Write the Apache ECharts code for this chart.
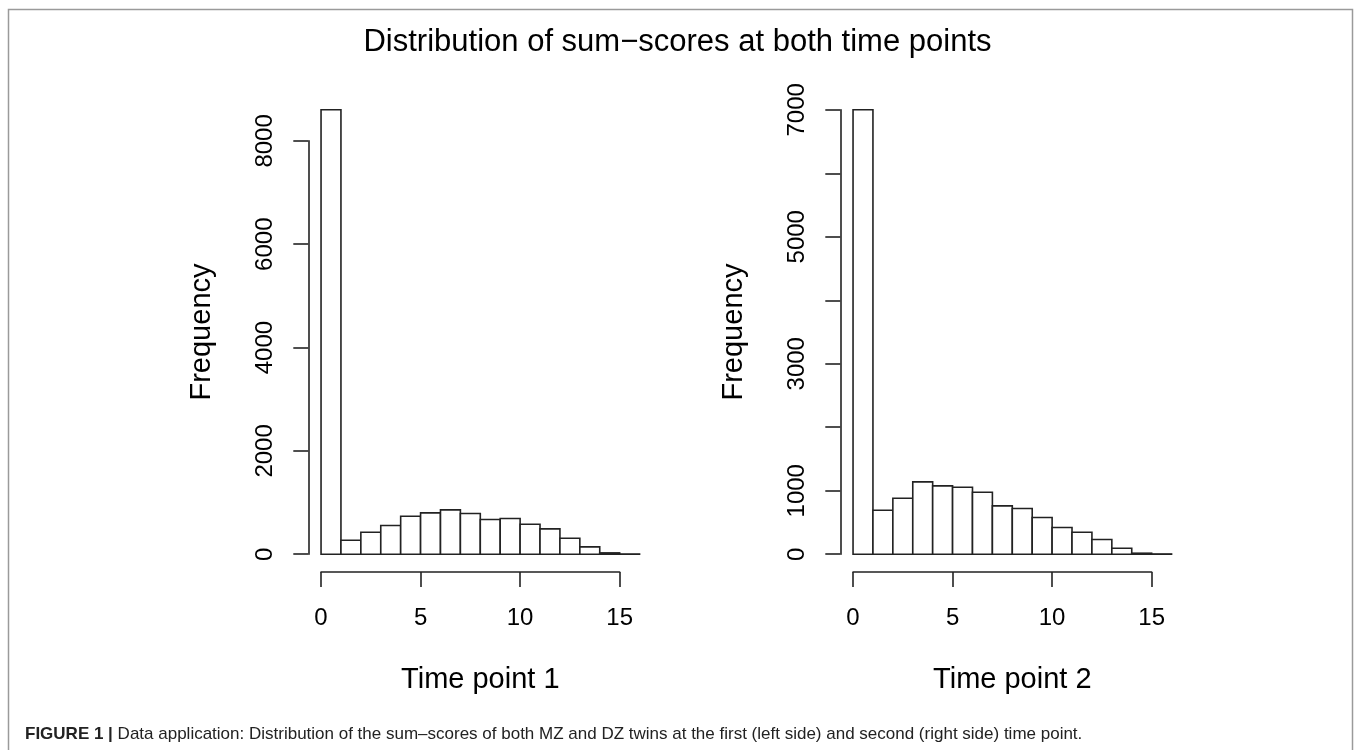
<!DOCTYPE html>
<html>
<head>
<meta charset="utf-8">
<script src="https://cdn.jsdelivr.net/npm/echarts@6/dist/echarts.min.js"></script>
<style>
html,body{margin:0;padding:0;background:#fff;}
#chart{width:1355px;height:750px;}
</style>
</head>
<body>
<div id="chart"></div>
<script>
// ---- data ----
const binStarts = [0,1,2,3,4,5,6,7,8,9,10,11,12,13,14,15];
const binWidth = 1;
const countsTime1 = [8602,271,426,555,736,800,858,787,671,690,581,490,310,142,26,4];
const countsTime2 = [7000,693,882,1139,1076,1055,976,761,719,578,420,346,231,94,16,4];
const xTicksMax = 15;
const xTickStep = 5;
const yAxisMax1 = 8000, yStep1 = 2000;
const yAxisMax2 = 7000, yStep2 = 1000;
const yLabels2 = [0,1000,3000,5000,7000];
const panelNames = ['Time point 1','Time point 2'];
const yName = 'Frequency';
const titleText = 'Distribution of sum\u2212scores at both time points';
const captionBold = 'FIGURE 1 |';
const captionText = ' Data application: Distribution of the sum\u2013scores of both MZ and DZ twins at the first (left side) and second (right side) time point.';

// ---- layout ----
const FONT = '"Liberation Sans", Arial, Helvetica, sans-serif';
const INK = '#222';
const LW = 1.6;
const plotTop = 92, plotH = 480;
const panelLeft = [308.3, 840.3];
const plotW = 344;
const xMinR = -0.04 * 16, xMaxR = 16 + 0.04 * 16;
const pxPerX = plotW / (xMaxR - xMinR);

const chart = echarts.init(document.getElementById('chart'));

const grids = [], xAxes = [], yAxes = [], series = [];
const panels = [
  {counts: countsTime1, yMax: yAxisMax1, yStep: yStep1, labelFilter: null},
  {counts: countsTime2, yMax: yAxisMax2, yStep: yStep2, labelFilter: yLabels2}
];

panels.forEach((p, i) => {
  const maxC = Math.max(...p.counts);
  const yMinR = -0.04 * maxC, yMaxR = maxC * 1.04;
  const pxPerY = plotH / (yMaxR - yMinR);
  const zeroY = plotTop + plotH + yMinR * pxPerY; // pixel of value 0
  const left = panelLeft[i];
  const zeroX = left + (0 - xMinR) * pxPerX;

  // grid for bars (R plot region)
  const g0 = grids.length;
  grids.push({left: left, top: plotTop, width: plotW, height: plotH, containLabel: false});
  xAxes.push({gridIndex: g0, type: 'value', min: xMinR, max: xMaxR, position: 'bottom',
    axisLine: {show: false, onZero: false}, axisTick: {show: false}, axisLabel: {show: false}, splitLine: {show: false},
    name: panelNames[i], nameLocation: 'middle', nameGap: 93,
    nameTextStyle: {fontFamily: FONT, fontSize: 29, color: '#000'}});
  yAxes.push({gridIndex: g0, type: 'value', min: yMinR, max: yMaxR,
    axisLine: {show: false, onZero: false}, axisTick: {show: false}, axisLabel: {show: false}, splitLine: {show: false},
    name: yName, nameLocation: 'middle', nameGap: 92,
    nameTextStyle: {fontFamily: FONT, fontSize: 29, color: '#000'}});
  series.push({
    type: 'custom', xAxisIndex: g0, yAxisIndex: g0,
    data: binStarts.map((b, k) => [b, b + binWidth, p.counts[k]]),
    encode: {x: [0, 1], y: 2},
    renderItem: function (params, api) {
      const a = api.coord([api.value(0), 0]);
      const b = api.coord([api.value(1), api.value(2)]);
      return {type: 'rect', shape: {x: a[0], y: b[1], width: b[0] - a[0], height: a[1] - b[1]},
        style: {fill: '#fff', stroke: INK, lineWidth: LW}};
    },
    silent: true, animation: false
  });

  // grid for x axis (0..15 only)
  const g1 = grids.length;
  grids.push({left: zeroX, top: plotTop, width: xTicksMax * pxPerX, height: plotH});
  xAxes.push({gridIndex: g1, type: 'value', min: 0, max: xTicksMax, interval: xTickStep, position: 'bottom',
    axisLine: {show: true, onZero: false, lineStyle: {color: INK, width: LW}},
    axisTick: {show: true, length: 15, inside: false, lineStyle: {color: INK, width: LW}},
    axisLabel: {show: true, margin: 34, fontFamily: FONT, fontSize: 24, color: '#000'},
    splitLine: {show: false}});
  yAxes.push({gridIndex: g1, type: 'value', show: false, min: 0, max: 1, splitLine: {show: false}});

  // grid for y axis (0..yMax only)
  const g2 = grids.length;
  const topPx = zeroY - p.yMax * pxPerY;
  grids.push({left: left, top: topPx, width: plotW, height: p.yMax * pxPerY});
  xAxes.push({gridIndex: g2, type: 'value', show: false, min: 0, max: 1, splitLine: {show: false}});
  const lf = p.labelFilter;
  yAxes.push({gridIndex: g2, type: 'value', min: 0, max: p.yMax, interval: p.yStep, position: 'left',
    axisLine: {show: true, onZero: false, lineStyle: {color: INK, width: LW}},
    axisTick: {show: true, length: 15, inside: false, lineStyle: {color: INK, width: LW}},
    axisLabel: {show: true, rotate: 90, margin: 31, fontFamily: FONT, fontSize: 24, color: '#000',
      showMinLabel: true, showMaxLabel: true,
      formatter: function (v) { return (lf && lf.indexOf(v) < 0) ? '' : String(v); }},
    splitLine: {show: false}});
});

chart.setOption({
  animation: false,
  backgroundColor: '#fff',
  title: {text: titleText, left: 'center', top: 27, padding: 0,
    textStyle: {fontFamily: FONT, fontSize: 31, fontWeight: 'normal', color: '#000'}},
  grid: grids, xAxis: xAxes, yAxis: yAxes, series: series,
  graphic: [
    {type: 'rect', shape: {x: 8.5, y: 9.5, width: 1344, height: 780}, style: {fill: 'none', stroke: '#9a9a9a', lineWidth: 1.5}, silent: true},
    {type: 'text', x: 25, y: 726, style: {
      text: '{b|' + captionBold + '}{r|' + captionText + '}',
      rich: {
        b: {fontFamily: FONT, fontSize: 17, fontWeight: 'bold', fill: '#222'},
        r: {fontFamily: FONT, fontSize: 17, fill: '#222'}
      }}, silent: true}
  ]
});
</script>
</body>
</html>
